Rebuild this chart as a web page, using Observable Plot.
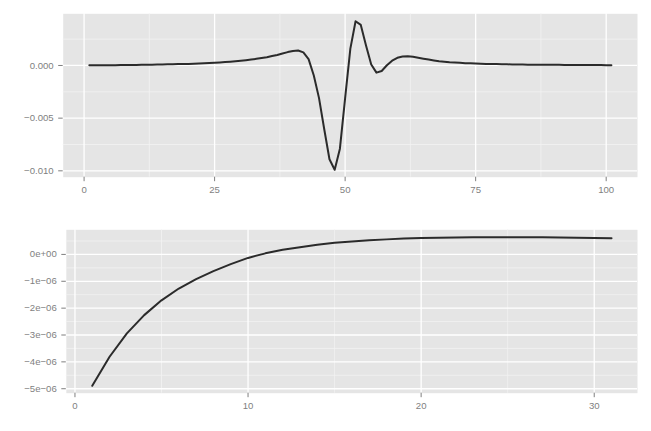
<!DOCTYPE html>
<html><head><meta charset="utf-8">
<script src="https://cdn.jsdelivr.net/npm/d3@7"></script>
<script src="https://cdn.jsdelivr.net/npm/@observablehq/plot@0.6"></script>
<style>
body{margin:0;background:#fff;}
#chart{width:651px;height:431px;}
svg{display:block;}
</style></head><body><div id="chart"></div>
<script>
// Top panel: series values at x = 1..101
const topValues = [
  0.00002, 0.00002, 0.00002, 0.00003, 0.00003, 0.00003, 0.00004, 0.00004, 0.00005, 0.00005,
  0.00006, 0.00007, 0.00008, 0.00009, 0.00010, 0.00011, 0.00012, 0.00013, 0.00014, 0.00015,
  0.00017, 0.00019, 0.00021, 0.00023, 0.00026, 0.00029, 0.00032, 0.00036, 0.00040, 0.00045,
  0.00050, 0.00056, 0.00063, 0.00071, 0.00079, 0.00089, 0.00100, 0.00113, 0.00127, 0.00138,
  0.00142, 0.00124, 0.00060, -0.00095, -0.00310, -0.00605, -0.00890, -0.00990, -0.00790, -0.00310,
  0.00160, 0.00420, 0.00385, 0.00190, 0.00010, -0.00068, -0.00052, 0.00002, 0.00045, 0.00073,
  0.00086, 0.00088, 0.00082, 0.00073, 0.00064, 0.00056, 0.00048, 0.00041, 0.00036, 0.00031,
  0.00028, 0.00025, 0.00022, 0.00020, 0.00018, 0.00017, 0.00015, 0.00014, 0.00013, 0.00012,
  0.00011, 0.00010, 0.00009, 0.00009, 0.00008, 0.00008, 0.00007, 0.00007, 0.00006, 0.00006,
  0.00006, 0.00005, 0.00005, 0.00005, 0.00005, 0.00004, 0.00004, 0.00004, 0.00004, 0.00003,
  0.00003
];
const topXTicks = [0, 25, 50, 75, 100];
const topXMinor = [12.5, 37.5, 62.5, 87.5];
const topYTicks = [-0.010, -0.005, 0];
const topYMinor = [-0.0075, -0.0025, 0.0025];

// Bottom panel: series values at x = 1..31
const bottomValues = [
  -4.89e-6, -3.81e-6, -2.94e-6, -2.26e-6, -1.71e-6, -1.27e-6, -0.92e-6, -0.62e-6, -0.36e-6, -0.13e-6,
  0.04e-6, 0.17e-6, 0.27e-6, 0.36e-6, 0.43e-6, 0.48e-6, 0.53e-6, 0.56e-6, 0.59e-6, 0.61e-6,
  0.62e-6, 0.63e-6, 0.635e-6, 0.64e-6, 0.64e-6, 0.64e-6, 0.635e-6, 0.63e-6, 0.62e-6, 0.61e-6,
  0.60e-6
];
const bottomXTicks = [0, 10, 20, 30];
const bottomXMinor = [5, 15, 25];
const bottomYTicks = [-5e-6, -4e-6, -3e-6, -2e-6, -1e-6, 0];
const bottomYMinor = [-4.5e-6, -3.5e-6, -2.5e-6, -1.5e-6, -0.5e-6, 0.5e-6];

function expand(ext, f = 0.05) { const d = (ext[1] - ext[0]) * f; return [ext[0] - d, ext[1] + d]; }

const fmtTop = d3.format(".3f");
function fmtSci(d) {
  const [m, e] = d.toExponential(0).split("e");
  const sign = e[0] === "-" ? "\u2212" : "+";
  const n = e.replace(/^[+-]/, "").padStart(2, "0");
  return m.replace("-", "\u2212") + "e" + sign + n;
}

function panel({values, xTicks, xMinor, yTicks, yMinor, yFormat, marginLeft, marginTop, marginBottom, height}) {
  const data = values.map((v, i) => ({x: i + 1, y: v}));
  const xd = expand([1, values.length]);
  const yd = expand(d3.extent(values));
  return Plot.plot({
    width: 651, height, marginLeft, marginRight: 14, marginTop, marginBottom,
    style: {fontFamily: "'Liberation Sans', Arial, Helvetica, sans-serif", fontSize: "9.6px", color: "#7f7f7f", background: "#fff"},
    x: {domain: xd, label: null},
    y: {domain: yd, label: null},
    marks: [
      Plot.frame({fill: "#E5E5E5", stroke: null}),
      Plot.ruleX(xMinor, {stroke: "#F2F2F2", strokeWidth: 0.8}),
      Plot.ruleY(yMinor, {stroke: "#F2F2F2", strokeWidth: 0.8}),
      Plot.ruleX(xTicks, {stroke: "#ffffff", strokeWidth: 1.3}),
      Plot.ruleY(yTicks, {stroke: "#ffffff", strokeWidth: 1.3}),
      Plot.axisX({ticks: xTicks, tickSize: 4.5, tickPadding: 4, tickFormat: d => String(d), label: null}),
      Plot.axisY({ticks: yTicks, tickSize: 4.5, tickPadding: 5, tickFormat: yFormat, label: null}),
      Plot.lineY(data, {x: "x", y: "y", stroke: "#2b2b2b", strokeWidth: 2})
    ]
  });
}

const chart = document.getElementById("chart");
chart.append(panel({values: topValues, xTicks: topXTicks, xMinor: topXMinor, yTicks: topYTicks, yMinor: topYMinor,
  yFormat: fmtTop, marginLeft: 62.7, marginTop: 13.3, marginBottom: 38.3, height: 215}));
chart.append(panel({values: bottomValues, xTicks: bottomXTicks, xMinor: bottomXMinor, yTicks: bottomYTicks, yMinor: bottomYMinor,
  yFormat: fmtSci, marginLeft: 65.8, marginTop: 14.3, marginBottom: 38.3, height: 216}));
</script>
</body></html>
